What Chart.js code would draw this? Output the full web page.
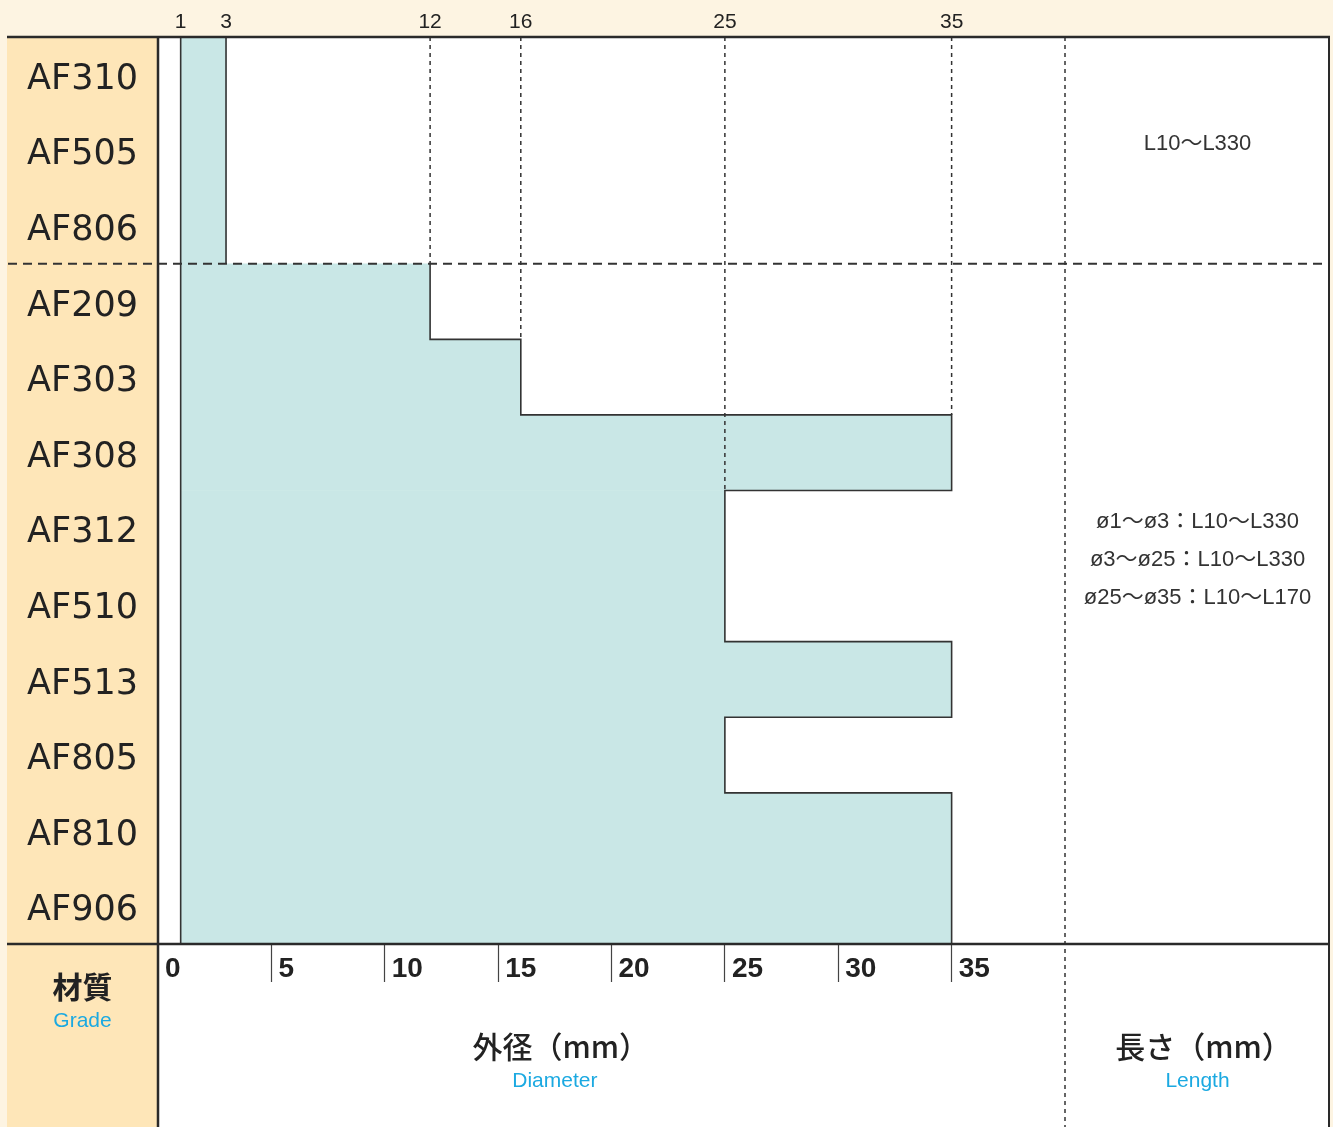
<!DOCTYPE html>
<html>
<head>
<meta charset="utf-8">
<script src="https://cdn.jsdelivr.net/npm/chart.js@4.4.0/dist/chart.umd.min.js"></script>
<style>
  html, body { margin: 0; padding: 0; background: #fff; }
  #wrap { width: 1333px; height: 1127px; position: relative; }
</style>
</head>
<body>
<div id="wrap"><canvas id="grafico"></canvas></div>
<script>
// dados
const grades = ['AF310', 'AF505', 'AF806', 'AF209', 'AF303', 'AF308', 'AF312', 'AF510', 'AF513', 'AF805', 'AF810', 'AF906'];
const diaMin = [1, 1, 1, 1, 1, 1, 1, 1, 1, 1, 1, 1];
const diaMax = [3, 3, 3, 12, 16, 35, 25, 25, 35, 25, 35, 35];
const topTicks = [1, 3, 12, 16, 25, 35];
const lengthTop = ['L10〜L330'];
const lengthBottom = ['ø1〜ø3：L10〜L330', 'ø3〜ø25：L10〜L330', 'ø25〜ø35：L10〜L170'];
const groupSplit = 3; // linha tracejada depois do 3º material

// cores
const corFundo = '#fdf4e2';
const corColuna = '#fee6b8';
const corBarra = '#c9e7e6';
const corLinha = '#2a2a2a';
const corAzul = '#1ba9e1';

const fontSans = '"Liberation Sans", "Noto Sans CJK JP", sans-serif';
const fontJp = '"Noto Sans CJK JP", sans-serif';

// fundo: faixa creme, coluna laranja, área branca
const fundoPlugin = {
    id: 'fundo',
    beforeDraw(chart) {
        const { ctx, chartArea } = chart;
        ctx.save();
        ctx.fillStyle = corFundo;
        ctx.fillRect(0, 0, chart.width, chart.height);
        ctx.fillStyle = corColuna;
        ctx.fillRect(7, chartArea.top, chartArea.left - 7, chart.height - chartArea.top);
        ctx.fillStyle = '#fff';
        ctx.fillRect(chartArea.left, chartArea.top, 1330 - chartArea.left, chart.height - chartArea.top);
        ctx.restore();
    }
};

// contorno em degraus, linhas tracejadas, bordas e textos
const contornoPlugin = {
    id: 'contorno',
    afterDatasetsDraw(chart) {
        const { ctx, chartArea, scales } = chart;
        const bars = chart.getDatasetMeta(0).data;
        const x = scales.x;
        const topo = (b) => b.y - b.height / 2;
        const base = (b) => b.y + b.height / 2;

        ctx.save();
        ctx.strokeStyle = '#333';
        ctx.lineWidth = 1.6;
        ctx.lineJoin = 'miter';
        // borda esquerda das barras
        ctx.beginPath();
        ctx.moveTo(bars[0].base, topo(bars[0]));
        ctx.lineTo(bars[0].base, base(bars[bars.length - 1]));
        ctx.stroke();
        // borda direita em degraus (um só caminho)
        ctx.beginPath();
        bars.forEach((b, i) => {
            if (i === 0 || i === groupSplit) ctx.moveTo(b.x, topo(b));
            else ctx.lineTo(b.x, topo(b));
            ctx.lineTo(b.x, base(b));
        });
        ctx.stroke();

        // verticais tracejadas a partir do eixo superior
        ctx.lineWidth = 1.5;
        ctx.setLineDash([4, 4]);
        topTicks.forEach(v => {
            const j = diaMax.indexOf(v);
            if (j <= 0) return;
            const px = x.getPixelForValue(v);
            ctx.beginPath();
            ctx.moveTo(px, chartArea.top);
            ctx.lineTo(px, topo(bars[j]));
            ctx.stroke();
        });
        // vertical tracejada separando a coluna de comprimento
        ctx.beginPath();
        ctx.moveTo(chartArea.right, chartArea.top);
        ctx.lineTo(chartArea.right, chart.height);
        ctx.stroke();

        // horizontal tracejada entre os grupos
        const ySep = base(bars[groupSplit - 1]);
        ctx.lineWidth = 2;
        ctx.setLineDash([9, 6]);
        ctx.beginPath();
        ctx.moveTo(8, ySep);
        ctx.lineTo(1330, ySep);
        ctx.stroke();
        ctx.setLineDash([]);

        // bordas principais
        ctx.strokeStyle = corLinha;
        ctx.lineWidth = 2.5;
        ctx.beginPath();
        ctx.moveTo(7, chartArea.top);
        ctx.lineTo(1330, chartArea.top);
        ctx.moveTo(7, chartArea.bottom);
        ctx.lineTo(1330, chartArea.bottom);
        ctx.moveTo(chartArea.left, chartArea.top);
        ctx.lineTo(chartArea.left, chart.height);
        ctx.stroke();
        ctx.lineWidth = 2;
        ctx.beginPath();
        ctx.moveTo(1329, chartArea.top);
        ctx.lineTo(1329, chart.height);
        ctx.stroke();
        ctx.restore();
    },
    afterDraw(chart) {
        const { ctx, chartArea, scales } = chart;
        const x = scales.x;
        const colEsq = (7 + chartArea.left) / 2;
        const colDia = (x.getPixelForValue(0) + x.getPixelForValue(Math.max(...diaMax))) / 2;
        const colLen = (chartArea.right + 1330) / 2;

        ctx.save();
        ctx.textAlign = 'center';
        ctx.textBaseline = 'middle';

        ctx.fillStyle = '#222';
        ctx.font = 'bold 30px ' + fontJp;
        ctx.fillText('材質', colEsq, 987);
        ctx.font = '500 30px ' + fontJp;
        ctx.fillText('外径（mm）', colDia + 6, 1047);
        ctx.fillText('長さ（mm）', colLen + 6, 1047);

        ctx.fillStyle = corAzul;
        ctx.font = '21px ' + fontSans;
        ctx.fillText('Grade', colEsq, 1021);
        ctx.fillText('Diameter', colDia, 1081);
        ctx.fillText('Length', colLen, 1081);

        ctx.fillStyle = '#333';
        ctx.font = '22px ' + fontSans;
        lengthTop.forEach((t, i) => ctx.fillText(t, colLen, 144 + i * 38));
        lengthBottom.forEach((t, i) => ctx.fillText(t, colLen, 522 + i * 38));
        ctx.restore();
    }
};

const ctxGrafico = document.getElementById('grafico');
new Chart(ctxGrafico, {
    type: 'bar',
    data: {
        labels: grades,
        datasets: [{
            label: '外径',
            data: diaMax.map((v, i) => [diaMin[i], v]),
            backgroundColor: corBarra,
            borderWidth: 0,
            borderSkipped: false,
            barPercentage: 1,
            categoryPercentage: 1
        }]
    },
    options: {
        indexAxis: 'y',
        responsive: true,
        maintainAspectRatio: false,
        animation: false,
        layout: {
            padding: { top: 0, left: 0, right: 268, bottom: 0 }
        },
        scales: {
            x: {
                type: 'linear',
                position: 'bottom',
                min: 0,
                max: 40,
                afterFit: (s) => { s.height = 183; s.paddingLeft = 0; s.paddingRight = 0; },
                border: { display: false },
                grid: {
                    drawOnChartArea: false,
                    drawTicks: true,
                    tickLength: 38,
                    tickWidth: 1.2,
                    tickColor: (c) => (c.tick && (c.tick.value === 40 || c.tick.value === 0)) ? 'rgba(0,0,0,0)' : '#444'
                },
                ticks: {
                    stepSize: 5,
                    autoSkip: false,
                    maxRotation: 0,
                    align: 'start',
                    labelOffset: 7,
                    padding: -30,
                    color: '#222',
                    font: { family: fontSans, size: 28, weight: 'bold' },
                    callback: (v) => v === 40 ? '' : v
                }
            },
            xTopo: {
                type: 'linear',
                position: 'top',
                axis: 'x',
                min: 0,
                max: 40,
                afterFit: (s) => { s.height = 37; s.paddingLeft = 0; s.paddingRight = 0; },
                afterBuildTicks: (s) => { s.ticks = topTicks.map(v => ({ value: v })); },
                border: { display: false },
                grid: { display: false, drawTicks: false },
                ticks: {
                    autoSkip: false,
                    maxRotation: 0,
                    padding: 2,
                    color: '#222',
                    font: { family: fontSans, size: 21 }
                }
            },
            y: {
                afterFit: (s) => { s.width = 158; s.paddingTop = 0; s.paddingBottom = 0; },
                border: { display: false },
                grid: { display: false, drawTicks: false },
                ticks: {
                    padding: 20,
                    labelOffset: 5,
                    color: '#222',
                    font: { family: '"DejaVu Sans", sans-serif', size: 35 }
                }
            }
        },
        plugins: {
            legend: { display: false },
            tooltip: { enabled: false }
        }
    },
    plugins: [fundoPlugin, contornoPlugin]
});
</script>
</body>
</html>
